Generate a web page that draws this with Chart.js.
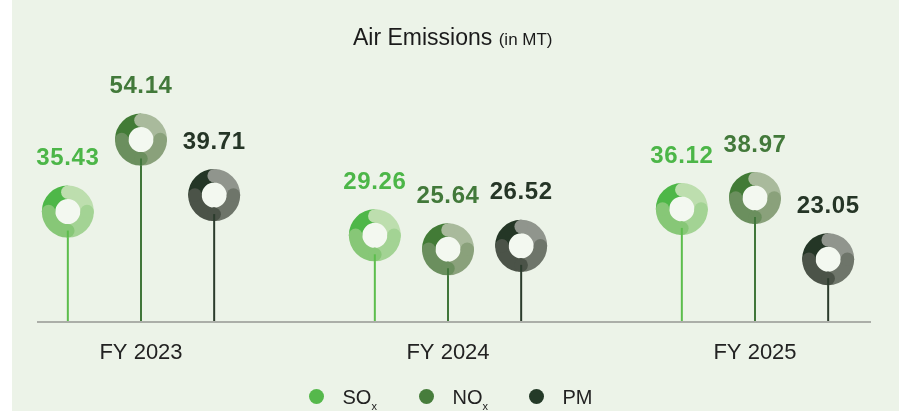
<!DOCTYPE html>
<html>
<head>
<meta charset="utf-8">
<title>Air Emissions</title>
<script src="https://cdn.jsdelivr.net/npm/chart.js@4.4.1/dist/chart.umd.min.js"></script>
<style>
  html, body { margin: 0; padding: 0; background: #ffffff; }
  body { width: 899px; height: 411px; position: relative; overflow: hidden; font-family: 'Liberation Sans', Arial, sans-serif; }
  .panel { position: absolute; left: 12px; top: 0; width: 887px; height: 411px; background: #ecf3e8; }
  .chart-box { position: absolute; left: 0; top: 0; width: 899px; height: 411px; }
  .title { position: absolute; left: 353px; top: 26px; font-size: 23px; line-height: 23px; color: #1b1b1b; white-space: nowrap; }
  .title small { font-size: 17px; }
  .legend-dot { position: absolute; width: 15px; height: 15px; border-radius: 50%; }
  .legend-text { position: absolute; font-size: 20px; line-height: 20px; color: #222; white-space: nowrap; }
  .legend-text sub { font-size: 11px; vertical-align: -6px; line-height: 0; }
</style>
</head>
<body>
<div class="panel"></div>
<div class="chart-box"><canvas id="emissionsChart" width="899" height="411"></canvas></div>
<div class="title">Air Emissions <small>(in MT)</small></div>
<div id="legend"></div>

<script>
// categories and values (MT)
const years = ['FY 2023', 'FY 2024', 'FY 2025'];
const soxValues = [35.43, 29.26, 36.12];
const noxValues = [54.14, 25.64, 38.97];
const pmValues = [39.71, 26.52, 23.05];

const seriesNames = ['SO', 'NO', 'PM'];
const seriesSubs = ['x', 'x', ''];

// per series: stem, label, legend dot and the four ring shades
const stemColors = ['#5cbd4c', '#40763a', '#2b3b2c'];
const labelColors = ['#4cb648', '#42793a', '#253526'];
const dotColors = ['#55b84b', '#477d3c', '#243a28'];
const ringShades = [
  ['#4eb748', '#bddeae', '#a3d394', '#87c777'],
  ['#427b36', '#a9ba9c', '#8aa17b', '#6b8f5e'],
  ['#243626', '#90958d', '#6e756a', '#4b5348']
];

// ring dimensions
const ringOuter = 26;
const ringInner = 12.5;

const ringPlugin = {
  id: 'ringMarkers',
  beforeDatasetsDraw(chart) {
    const { ctx, chartArea } = chart;
    ctx.save();
    ctx.strokeStyle = '#abaea8';
    ctx.lineWidth = 2;
    ctx.beginPath();
    ctx.moveTo(chartArea.left - 104, chartArea.bottom + 1);
    ctx.lineTo(chartArea.right + 116, chartArea.bottom + 1);
    ctx.stroke();
    ctx.restore();
  },
  afterDatasetsDraw(chart) {
    const { ctx } = chart;
    const mid = (ringOuter + ringInner) / 2;
    const thick = ringOuter - ringInner;
    chart.data.datasets.forEach((ds, di) => {
      const meta = chart.getDatasetMeta(di);
      const shades = ringShades[di];
      meta.data.forEach((el, i) => {
        const x = el.x, y = el.y;
        ctx.save();
        // hole
        ctx.fillStyle = '#f3f8f0';
        ctx.beginPath();
        ctx.arc(x, y, ringInner, 0, Math.PI * 2);
        ctx.fill();

        const seg = (color, a0, a1) => {
          ctx.strokeStyle = color;
          ctx.lineWidth = thick;
          ctx.lineCap = 'butt';
          ctx.beginPath();
          ctx.arc(x, y, mid, a0, a1);
          ctx.stroke();
        };
        const cap = (color, a) => {
          ctx.fillStyle = color;
          ctx.beginPath();
          ctx.arc(x + mid * Math.cos(a), y + mid * Math.sin(a), thick / 2, 0, Math.PI * 2);
          ctx.fill();
        };
        const q = Math.PI / 2;
        seg(shades[0], Math.PI, Math.PI * 1.5);
        seg(shades[1], -q, 0);
        cap(shades[1], -q);
        seg(shades[2], 0, q);
        cap(shades[2], 0);
        seg(shades[3], q, Math.PI);
        cap(shades[3], q);
        cap(shades[3], Math.PI);

        // stem tip over the ring
        ctx.strokeStyle = stemColors[di];
        ctx.lineWidth = 2;
        ctx.beginPath();
        ctx.moveTo(x, y + ringInner + 6.5);
        ctx.lineTo(x, y + ringOuter);
        ctx.stroke();

        // value label
        ctx.fillStyle = labelColors[di];
        ctx.font = 'bold 24px "Liberation Sans", Arial, sans-serif';
        ctx.letterSpacing = '0.6px';
        ctx.textAlign = 'center';
        ctx.textBaseline = 'middle';
        ctx.fillText(ds.data[i].toFixed(2), x, y - 53);
        ctx.restore();
      });
    });
  }
};

const stemDataset = (label, data, idx) => ({
  label,
  data,
  backgroundColor: stemColors[idx],
  borderWidth: 0,
  maxBarThickness: 2,
  categoryPercentage: 0.715,
  barPercentage: 1,
  // stems may sit past the left/right edge of the plot area, but stop at the baseline
  clip: { left: false, right: false, top: false, bottom: 0 }
});

new Chart(document.getElementById('emissionsChart'), {
  type: 'bar',
  data: {
    labels: years,
    datasets: [
      stemDataset('SOx', soxValues, 0),
      stemDataset('NOx', noxValues, 1),
      stemDataset('PM', pmValues, 2)
    ]
  },
  options: {
    responsive: false,
    animation: false,
    layout: { padding: { left: 141, right: 144, top: 40, bottom: 25.6 } },
    plugins: {
      legend: { display: false },
      tooltip: { enabled: false }
    },
    scales: {
      x: {
        offset: false,
        grid: { display: false, drawTicks: false },
        border: { display: false },
        ticks: {
          padding: 19,
          color: '#222',
          font: { family: '"Liberation Sans", Arial, sans-serif', size: 22 },
          autoSkip: false,
          maxRotation: 0
        }
      },
      y: {
        display: false,
        min: 7,
        max: 80
      }
    }
  },
  plugins: [ringPlugin]
});

// legend
const legendCenters = [316, 426, 536];
const legend = document.getElementById('legend');
seriesNames.forEach((name, i) => {
  const dot = document.createElement('div');
  dot.className = 'legend-dot';
  dot.style.left = (legendCenters[i] - 7.5) + 'px';
  dot.style.top = '389px';
  dot.style.background = dotColors[i];
  legend.appendChild(dot);

  const txt = document.createElement('div');
  txt.className = 'legend-text';
  txt.style.left = (legendCenters[i] + 26.5) + 'px';
  txt.style.top = '387px';
  txt.textContent = name;
  if (seriesSubs[i]) {
    const sub = document.createElement('sub');
    sub.textContent = seriesSubs[i];
    txt.appendChild(sub);
  }
  legend.appendChild(txt);
});
</script>
</body>
</html>
